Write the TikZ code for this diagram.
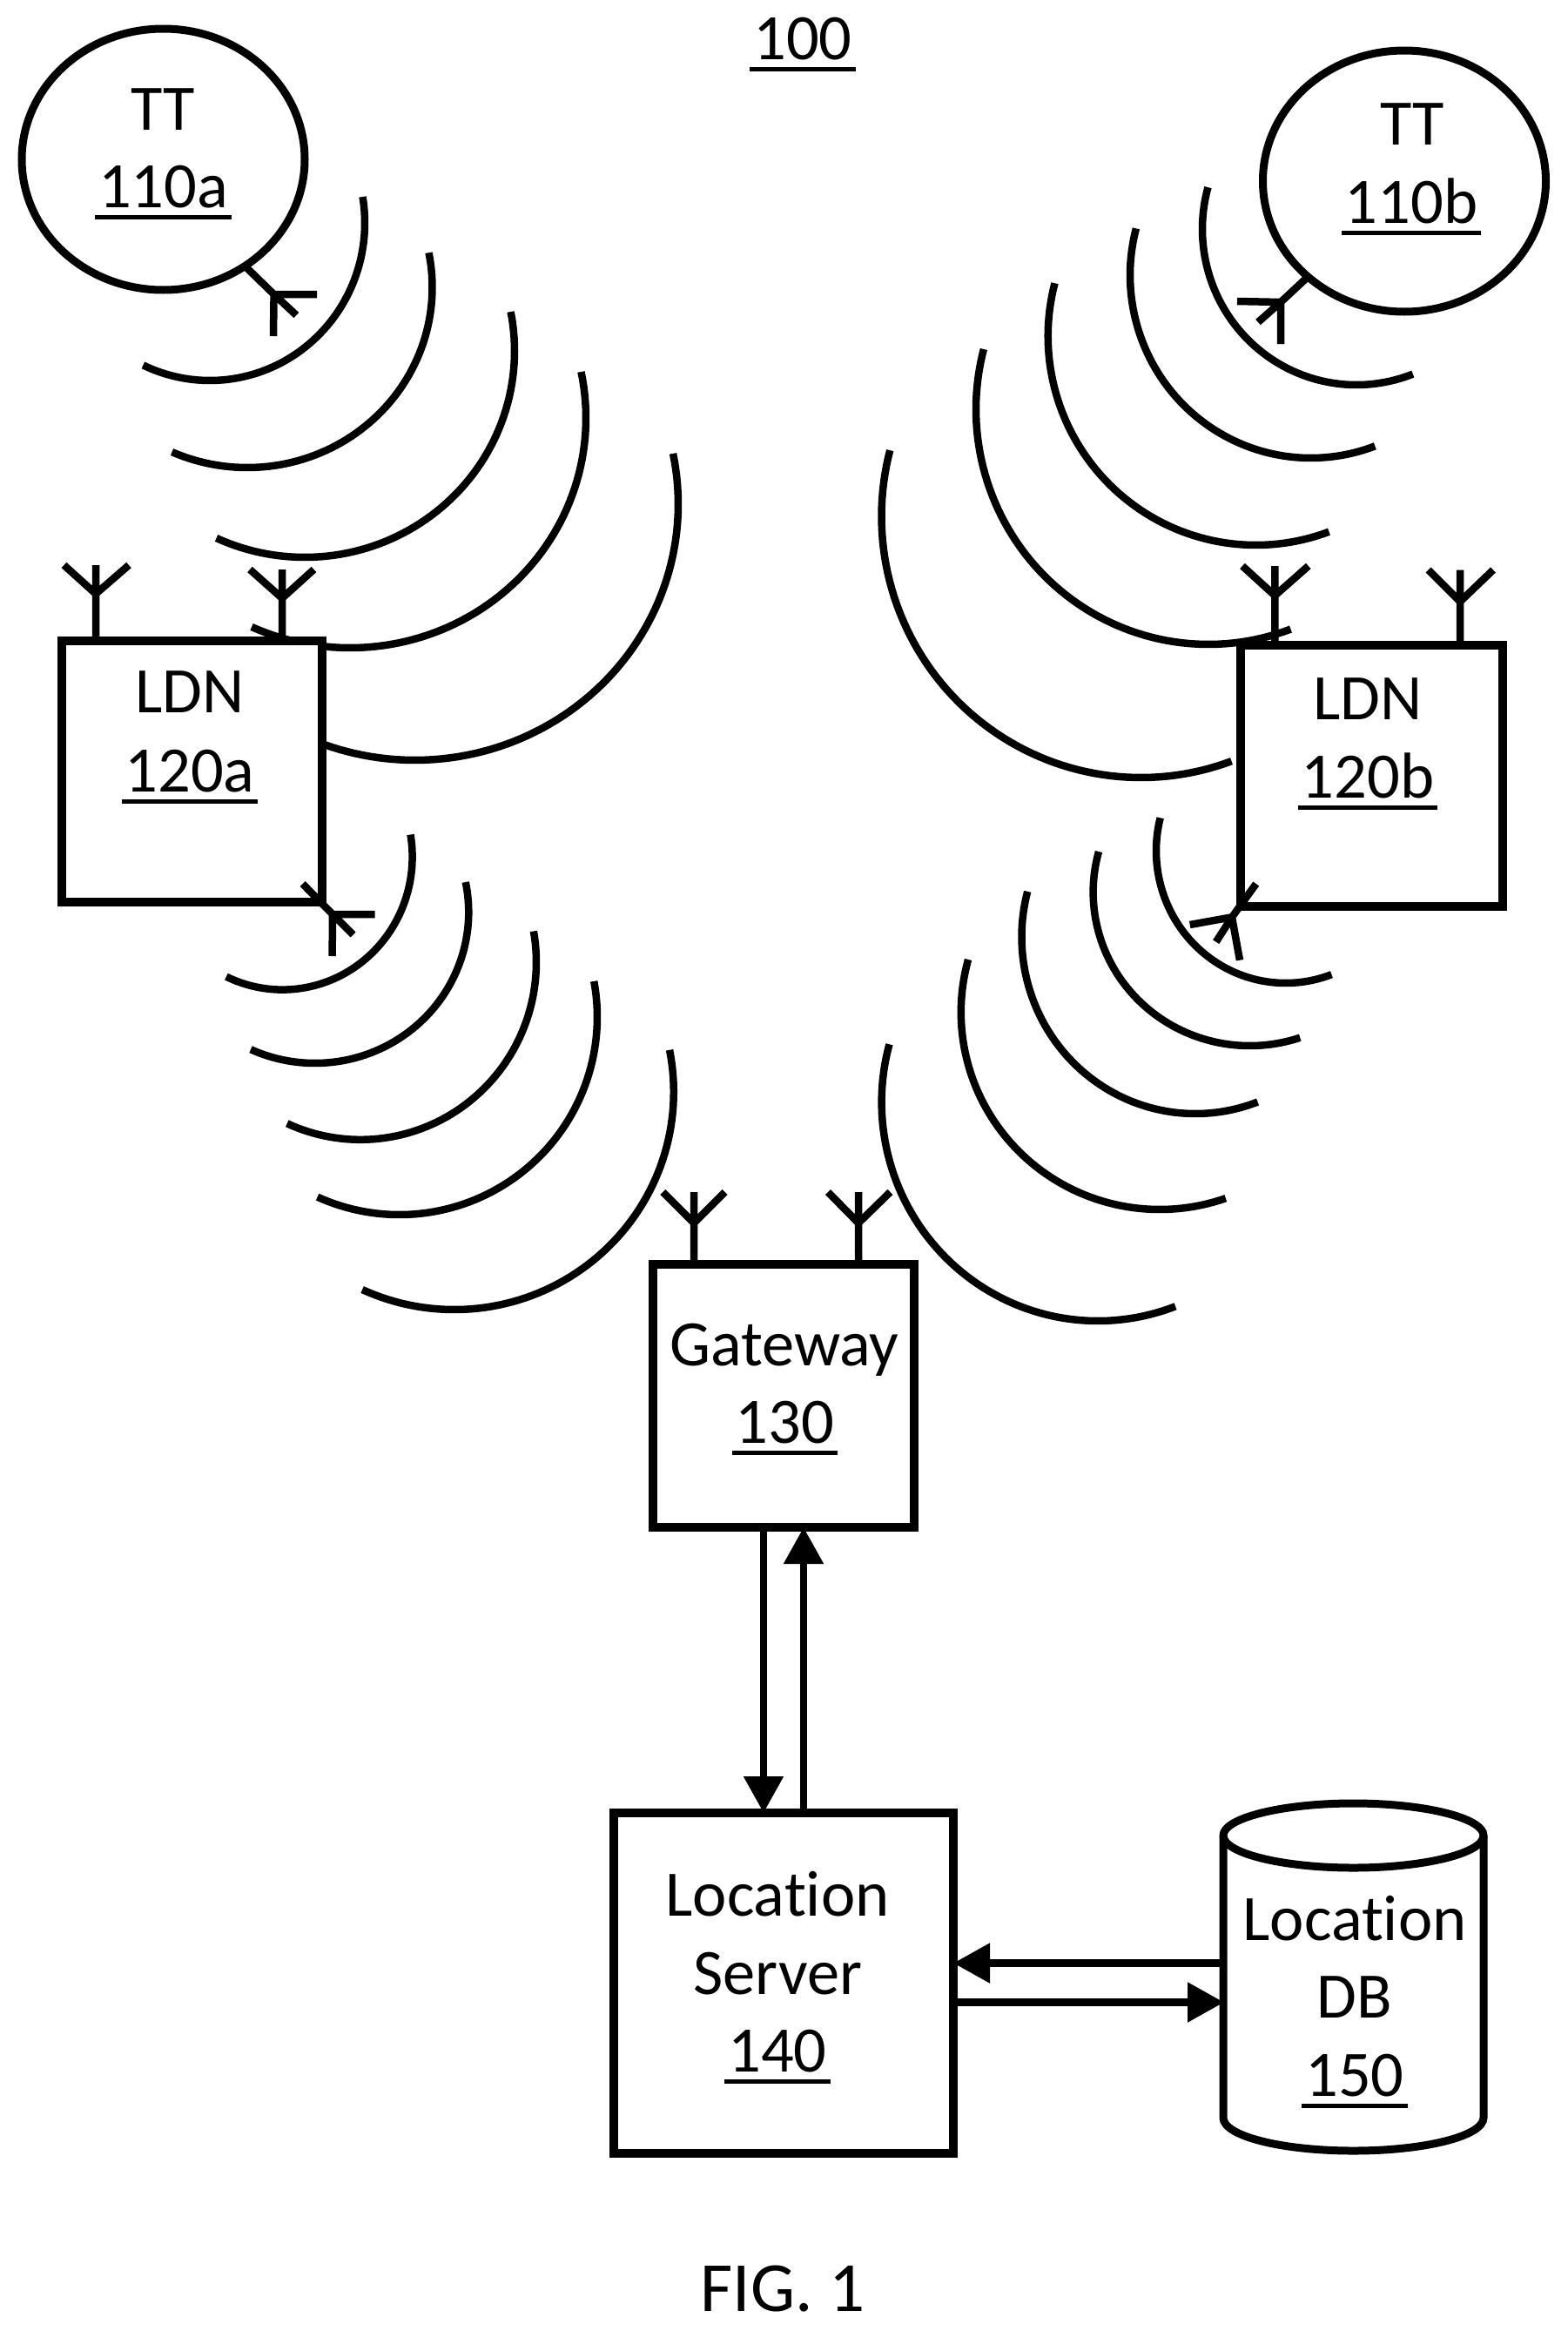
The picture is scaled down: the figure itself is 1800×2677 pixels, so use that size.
\documentclass[tikz,border=0pt]{standalone}
\usepackage{fontspec}
\setmainfont{Carlito}[Ligatures=NoCommon]
\usetikzlibrary{arrows.meta,shapes.geometric}
\newcommand{\ubar}[1]{\setbox0=\hbox{#1}\leavevmode\rlap{\kern-4pt\vrule width \dimexpr\wd0+8pt\relax height -8.5pt depth 13.5pt}\box0 }
% wave: start x,y ; extreme x ; centre y ; centre x ; bottom y ; end x,y
\newcommand{\waveL}[8]{%
  \pgfmathsetmacro\wRx{abs(#3-#5)}\pgfmathsetmacro\wRy{#6-#4}%
  \pgfmathsetmacro\wTa{atan2((#2-#4)/\wRy,(#1-#5)/\wRx)}%
  \pgfmathsetmacro\wTb{atan2((#8-#4)/\wRy,(#7-#5)/\wRx)}%
  \draw[wave] plot[domain=\wTa:\wTb,samples=70] ({#5+\wRx*cos(\x)},{#4+\wRy*sin(\x)});}
\newcommand{\waveR}[8]{%
  \pgfmathsetmacro\wRx{abs(#3-#5)}\pgfmathsetmacro\wRy{#6-#4}%
  \pgfmathsetmacro\wTa{atan2((#2-#4)/\wRy,(#1-#5)/\wRx)}%
  \pgfmathsetmacro\wTa{\wTa<0?\wTa+360:\wTa}%
  \pgfmathsetmacro\wTb{atan2((#8-#4)/\wRy,(#7-#5)/\wRx)}%
  \draw[wave] plot[domain=\wTb:\wTa,samples=70] ({#5+\wRx*cos(\x)},{#4+\wRy*sin(\x)});}
% antenna: base ; junction ; three tips
\newcommand{\antenna}[5]{\draw[ant] (#1) -- (#2) (#3) -- (#2) -- (#4) (#2) -- (#5);}
\tikzset{
  x=1pt,y=-1pt,
  wave/.style={line width=8.5pt,black},
  ant/.style={line width=8.5pt,black},
  blockbox/.style={draw=black,fill=white,line width=10pt,rectangle,inner sep=0pt,miter limit=10},
  oval/.style={draw=black,fill=white,line width=9pt,ellipse,inner sep=0pt},
  lbl/.style={anchor=base,inner sep=0pt,outer sep=0pt,font=\fontsize{74.5}{80}\selectfont,text=black},
  conn/.style={line width=8.5pt,black,shorten >=-5pt,-{Triangle[length=42pt,width=44pt,sep=0pt]}},
}
\begin{document}
\begin{tikzpicture}
\path[use as bounding box] (0,0) rectangle (1800,2677);
% waves, upper left
\waveL{417.3}{225.9}{419}{256}{241}{437}{163.6}{421}
\waveL{493.7}{290}{496.5}{330}{284}{537}{198}{518}
\waveL{586.7}{358}{591}{403}{350}{640}{249}{617}
\waveL{670}{426.5}{673}{480}{402}{744}{290}{718}
\waveL{775}{520.5}{779}{579}{476.5}{873}{373}{852}
% waves, upper right
\waveR{1386}{214.7}{1381}{263}{1558}{442}{1623}{430}
\waveR{1303.6}{262}{1298}{316}{1505.6}{526}{1580}{514}
\waveR{1210.6}{325}{1203.7}{386}{1442.5}{626}{1527}{612}
\waveR{1128.5}{400.6}{1121}{470}{1388}{740}{1483}{724}
\waveR{1021.7}{517}{1012.5}{593}{1310.5}{893}{1415}{875.5}
% waves, lower left
\waveL{471}{958.6}{473.6}{984}{324.4}{1136.6}{259.7}{1122}
\waveL{535}{1013}{538.3}{1047.6}{361.7}{1221}{288.7}{1203.7}
\waveL{613}{1069.4}{616}{1105}{414}{1308.8}{331}{1287.5}
\waveL{682.6}{1126.8}{686}{1168}{458.7}{1395}{365.8}{1372}
\waveL{770.5}{1205.5}{773.8}{1254}{521.7}{1504}{418}{1477}
% waves, lower right
\waveR{1331.7}{939}{1328}{977}{1476.7}{1129}{1530}{1120.7}
\waveR{1260.5}{977.6}{1255.6}{1024.6}{1435.5}{1201}{1492}{1188}
\waveR{1179}{1023.5}{1173.5}{1076}{1373}{1279}{1444}{1264}
\waveR{1110.5}{1101.5}{1103.8}{1162.4}{1332}{1389}{1407}{1373.7}
\waveR{1019}{1198.6}{1012.6}{1265.7}{1261}{1517}{1350}{1500}
% nodes
\node[oval,minimum width=325pt,minimum height=300pt] (tta) at (187.5,183) {};
\node[oval,minimum width=325pt,minimum height=300pt] (ttb) at (1613,208) {};
\node[blockbox,minimum width=299pt,minimum height=300pt] (ldna) at (220,885.5) {};
\node[blockbox,minimum width=301pt,minimum height=300pt] (ldnb) at (1575.8,891) {};
\node[blockbox,minimum width=300pt,minimum height=302pt] (gw) at (900,1603) {};
\node[blockbox,minimum width=390pt,minimum height=391pt] (ls) at (900,2277.5) {};
\node[inner sep=0pt,outer sep=0pt,minimum width=307pt,minimum height=407pt] (db) at (1554.5,2270.5) {};
% database cylinder
\draw[line width=9pt,black,fill=white] (1405,2108) -- (1405,2432)
  .. controls (1405,2453) and (1472,2470) .. (1554.5,2470)
  .. controls (1637,2470) and (1704,2453) .. (1704,2432) -- (1704,2108)
  .. controls (1704,2088) and (1637,2071) .. (1554.5,2071)
  .. controls (1472,2071) and (1405,2088) .. (1405,2108) -- cycle;
\draw[line width=9pt,black] (1405,2108) .. controls (1405,2128) and (1472,2145) .. (1554.5,2145)
  .. controls (1637,2145) and (1704,2128) .. (1704,2108);
% antennas
\antenna{282.4,306.6}{314.6,338}{364,338}{314,386}{340.4,362}
\antenna{1501,319}{1471,347}{1421,346}{1471,395}{1445,370}
\antenna{110,733}{110,682}{73.5,649}{110,649}{148,649}
\antenna{324,733}{324,687}{287,654}{324,654}{360.5,654}
\antenna{347.6,1015}{382,1050}{430.5,1050}{381.6,1098}{405.6,1073.4}
\antenna{1464.3,741}{1464.3,684}{1427,650}{1464.3,650}{1502.8,650}
\antenna{1677,741}{1677,691}{1640.5,654.5}{1677,654.5}{1715,654.5}
\antenna{1442.7,1015}{1415,1053.3}{1366.7,1062}{1424,1102.7}{1396.7,1081.7}
\antenna{797,1452}{797,1404.6}{761.4,1369}{797,1369}{832.7,1369}
\antenna{986,1452}{986,1404.6}{951,1369}{986,1369}{1022.5,1369}
% connectors
\draw[conn] ([xshift=-23pt]gw.south) -- ([xshift=-23pt]ls.north);
\draw[conn] ([xshift=23pt]ls.north) -- ([xshift=23pt]gw.south);
\draw[conn] ([yshift=16pt]db.west) -- ([yshift=16pt]db.west -| ls.east);
\draw[conn] ([yshift=-29pt]db.west -| ls.east) -- ([yshift=-29pt]db.west);
% labels
\node[lbl] (t100) at (922,68.5) {\ubar{100}};
\node[lbl] (ttat) at (187,149.5) {TT};
\node[lbl] (ttan) at (187.5,238.5) {\ubar{110a}};
\node[lbl] (ttbt) at (1622,166.5) {TT};
\node[lbl] (ttbn) at (1621,256.5) {\ubar{110b}};
\node[lbl] (ldnat) at (218,818.5) {LDN};
\node[lbl] (ldnan) at (218,909.5) {\ubar{120a}};
\node[lbl] (ldnbt) at (1571,826.5) {LDN};
\node[lbl] (ldnbn) at (1571,916.5) {\ubar{120b}};
\node[lbl] (gwt) at (900.7,1568.5) {Gateway};
\node[lbl] (gwn) at (901.5,1657.5) {\ubar{130}};
\node[lbl] (lst) at (893,2200.5) {Location};
\node[lbl] (lss) at (893,2290) {Server};
\node[lbl] (lsn) at (893,2379.5) {\ubar{140}};
\node[lbl] (dbt) at (1556,2228) {Location};
\node[lbl] (dbd) at (1556,2317.5) {DB};
\node[lbl] (dbn) at (1556,2407.5) {\ubar{150}};
\node[lbl,font=\fontsize{81}{85}\selectfont] (fig) at (899,2654) {FIG. 1};
\end{tikzpicture}
\end{document}
